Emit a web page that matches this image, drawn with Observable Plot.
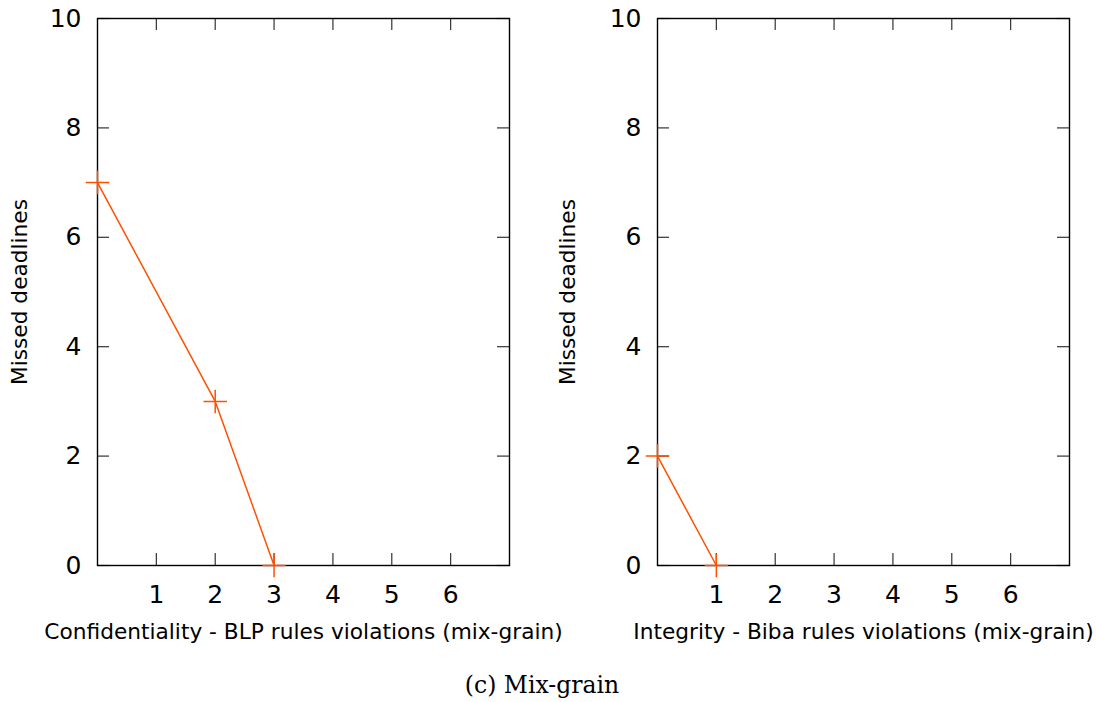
<!DOCTYPE html>
<html>
<head>
<meta charset="utf-8">
<script src="https://cdn.jsdelivr.net/npm/d3@7"></script>
<script src="https://cdn.jsdelivr.net/npm/@observablehq/plot@0.6"></script>
<style>
  html, body { margin: 0; padding: 0; background: #fff; }
  #wrap { position: relative; width: 1096px; height: 702px; }
  #left, #right { position: absolute; top: 0; }
  #left { left: 0; }
  #right { left: 548px; }
  #wrap svg { overflow: visible; background: transparent; }
  #caption { position: absolute; left: -6px; width: 1096px; top: 670px; text-align: center; line-height: 30px;
    font-family: "DejaVu Serif", "Liberation Serif", serif; font-size: 23.5px; color: #000; }
</style>
</head>
<body>
<div id="wrap">
  <div id="left"></div>
  <div id="right"></div>
  <div id="caption">(c) Mix-grain</div>
</div>
<script>
// ---- data ----
const confViolations = [0, 2, 3];
const confMissed = [7, 3, 0];
const integViolations = [0, 1];
const integMissed = [2, 0];
const xTicks = [1, 2, 3, 4, 5, 6];
const yTicks = [0, 2, 4, 6, 8, 10];
const xLabelLeft = "Confidentiality - BLP rules violations (mix-grain)";
const xLabelRight = "Integrity - Biba rules violations (mix-grain)";
const yLabel = "Missed deadlines";

const color = "#ff5000";
const fontFamily = "'DejaVu Sans', sans-serif";

function panel(xs, ys, xLabel, marginLeft, marginRight) {
  const width = 548, height = 650, marginTop = 18, marginBottom = 85;
  const plotH = height - marginTop - marginBottom;
  const plotW = width - marginLeft - marginRight;
  const data = xs.map((x, i) => ({x, y: ys[i]}));
  const tl = 12;
  return Plot.plot({
    width, height, marginTop, marginBottom, marginLeft, marginRight,
    style: {fontFamily, fontSize: "25px", color: "#000", background: "transparent", overflow: "visible"},
    x: {domain: [0, 7]},
    y: {domain: [0, 10]},
    marks: [
      // inward ticks
      Plot.tickX(xTicks, {x: d => d, insetTop: plotH - tl, stroke: "#333", strokeWidth: 1.2}),
      Plot.tickX(xTicks, {x: d => d, insetBottom: plotH - tl, stroke: "#333", strokeWidth: 1.2}),
      Plot.tickY(yTicks, {y: d => d, insetRight: plotW - tl, stroke: "#333", strokeWidth: 1.2}),
      Plot.tickY(yTicks, {y: d => d, insetLeft: plotW - tl, stroke: "#333", strokeWidth: 1.2}),
      Plot.axisX(xTicks, {tickSize: 0, tickPadding: 20, label: null, fontSize: 25, tickFormat: d => String(d)}),
      Plot.axisY(yTicks, {tickSize: 0, tickPadding: 16, label: null, fontSize: 25, tickFormat: d => String(d)}),
      Plot.frame({stroke: "#000", strokeWidth: 1.4}),
      Plot.line(data, {x: "x", y: "y", stroke: color, strokeWidth: 1.5}),
      Plot.dot(data, {x: "x", y: "y", symbol: "plus", r: 7.6, stroke: color, strokeWidth: 1.5}),
      Plot.text([xLabel], {text: d => d, frameAnchor: "bottom", dy: 73.5, fontSize: 21.7, fill: "#000"}),
      Plot.text([yLabel], {text: d => d, frameAnchor: "left", textAnchor: "middle", dx: -(marginLeft - 20), rotate: -90, fontSize: 21.7, fill: "#000"})
    ]
  });
}

document.getElementById("left").appendChild(panel(confViolations, confMissed, xLabelLeft, 97, 39));
document.getElementById("right").appendChild(panel(integViolations, integMissed, xLabelRight, 109, 27));
</script>
</body>
</html>
